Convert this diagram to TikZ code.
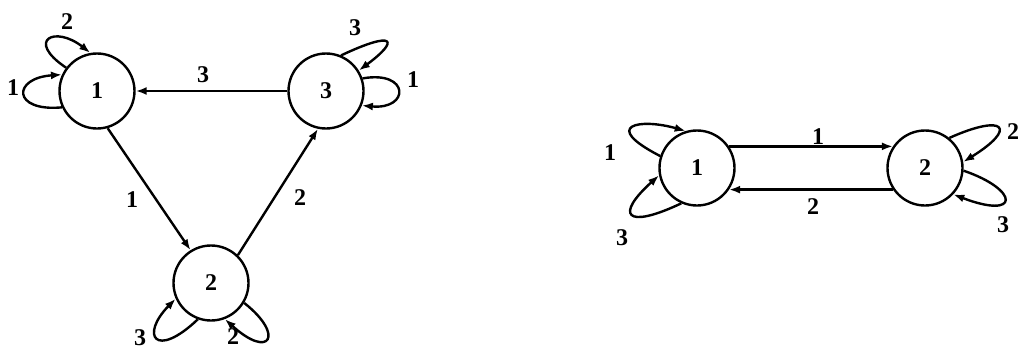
\documentclass[tikz,border=0pt]{standalone}
\usepackage{fontspec}
\setmainfont{Liberation Serif}
\usetikzlibrary{arrows.meta}
\begin{document}
\begin{tikzpicture}[x=1pt,y=-1pt,line width=2.4pt,
  state/.style={circle,draw,minimum size=75pt,inner sep=0pt,font=\fontsize{24}{26}\selectfont\bfseries},
  lbl/.style={inner sep=0pt,font=\fontsize{24}{26}\selectfont\bfseries},
  arr/.style={-{Latex[length=11pt,width=8pt]}}]
\useasboundingbox (0,0) rectangle (1021,351);
% left graph
\node[state] (a1) at (97,91) {1};
\node[state] (a3) at (326,91) {3};
\node[state] (a2) at (211,283) {2};
\draw[arr] (a3) -- (a1);
\draw[arr] (a1.-74) -- (a2.122);
\draw[arr] (a2.46) -- (a3.258);
\draw[arr] (a1.143) .. controls (25,40) and (55,25) .. (a1.100);
\draw[arr] (a1.205) .. controls (12,112) and (12,78) .. (a1.155);
\draw[arr] (a3.67) .. controls (395,30) and (400,40) .. (a3.32);
\draw[arr] (a3.19) .. controls (410,70) and (410,110) .. (a3.-22);
\draw[arr] (a2.250) .. controls (155,360) and (140,335) .. (a2.204);
\draw[arr] (a2.-31) .. controls (285,335) and (270,360) .. (a2.-69);
\node[lbl] (l1) at (67,22) {2};
\node[lbl] (l2) at (13,88) {1};
\node[lbl] (l3) at (355,28) {3};
\node[lbl] (l4) at (413,80) {1};
\node[lbl] (l5) at (203,75) {3};
\node[lbl] (l6) at (132,200) {1};
\node[lbl] (l7) at (300,198) {2};
\node[lbl] (l8) at (140,338) {3};
\node[lbl] (l9) at (233,337) {2};
% right graph
\node[state] (b1) at (697,168) {1};
\node[state] (b2) at (925,168) {2};
\draw[arr] (b1.34) -- (b2.146);
\draw[arr] (b2.-146) -- (b1.-34);
\draw[arr] (b1.162) .. controls (600,125) and (640,118) .. (b1.107);
\draw[arr] (b1.246) .. controls (625,230) and (615,215) .. (b1.191);
\draw[arr] (b2.51) .. controls (1005,113) and (1018,128) .. (b2.9);
\draw[arr] (b2.-4) .. controls (1020,190) and (1020,220) .. (b2.-43);
\node[lbl] (m1) at (610,153) {1};
\node[lbl] (m2) at (622,238) {3};
\node[lbl] (m3) at (1013,132) {2};
\node[lbl] (m4) at (1003,225) {3};
\node[lbl] (m5) at (818,137) {1};
\node[lbl] (m6) at (813,207) {2};
\end{tikzpicture}
\end{document}
